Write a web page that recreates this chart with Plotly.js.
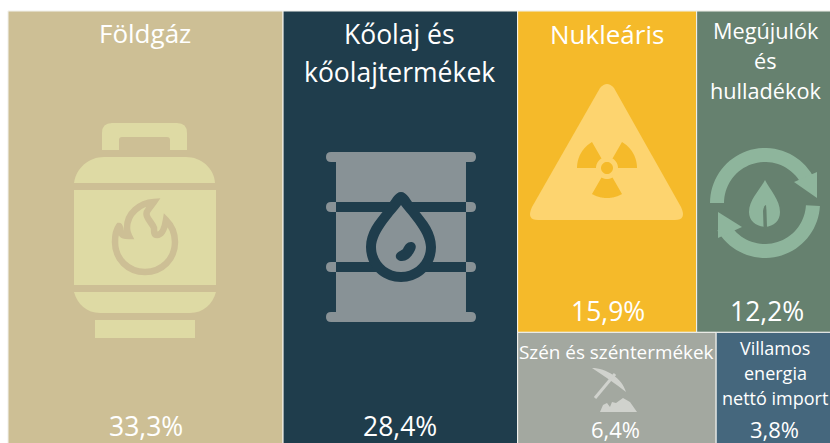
<!DOCTYPE html>
<html><head><meta charset="utf-8">
<script src="https://cdn.plot.ly/plotly-3.0.1.min.js"></script>
<style>html,body{margin:0;padding:0;width:830px;height:443px;overflow:hidden;background:#fff}</style>
</head><body><div id="chart" style="width:834px;height:449px"></div>
<script>
// Data
const categories = ['Földgáz','Kőolaj és kőolajtermékek','Nukleáris','Megújulók és hulladékok','Szén és széntermékek','Villamos energia nettó import'];
const shares = [33.3,28.4,15.9,12.2,6.4,3.8];
const tileColors = ['#CDBF95','#1F3D4C','#F5BA2A','#66816F','#A3A8A0','#45677D'];
const titleLines = [['Földgáz'],['Kőolaj és','kőolajtermékek'],['Nukleáris'],['Megújulók','és','hulladékok'],['Szén és széntermékek'],['Villamos','energia','nettó import']];

// Layout settings (pixels in the page; the treemap runs slightly past the photographed window, as in the reference)
const W = 834, H = 449, L = 8, T = 11;
const titleStyle = [
  {x:145,y:[33],size:26},{x:399.5,y:[34,72],size:26.5},{x:607,y:[34],size:26},
  {x:765.5,y:[30,60,90],size:21.7},{x:616.5,y:[352],size:18.9},{x:775,y:[348,373,398],size:18}];
const valueStyle = [{x:145.5,y:426,size:26.5},{x:399.5,y:426,size:26.5},{x:607.5,y:311,size:26.5},{x:766.5,y:311,size:26.5},{x:615,y:429,size:22},{x:774,y:429,size:22}];

const ids = ['Gyökér','t0','t1','Többi','Felső','Alsó','t2','t3','t4','t5'];
const parents = ['','Gyökér','Gyökér','Gyökér','Többi','Többi','Felső','Felső','Alsó','Alsó'];
const values = [0,shares[0],shares[1],0,0,0,shares[2],shares[3],shares[4],shares[5]];
const none = 'rgba(0,0,0,0)';
const colors = [none,tileColors[0],tileColors[1],none,none,none,tileColors[2],tileColors[3],tileColors[4],tileColors[5]];

const trace = {
  type:'treemap', ids:ids, labels:ids, parents:parents, values:values,
  branchvalues:'remainder', sort:false, textinfo:'none', hoverinfo:'skip',
  tiling:{packing:'slice-dice',pad:0},
  pathbar:{visible:false},
  marker:{colors:colors,pad:{t:0,l:0,r:0,b:0},line:{color:'#F4F4F0',width:1}},
  domain:{x:[L/W,1],y:[0,(H-T)/H]}
};

// Helpers for icon drawing
const f = n => n.toFixed(5);
const tp = s => s.replace(/(-?\d+\.?\d*)[ ,]+(-?\d+\.?\d*)/g,(m,a,b)=>f(+a/W)+','+f(1-(+b)/H));
const rr = (a,b,c,d,r)=>`M ${a+r} ${b} L ${c-r} ${b} Q ${c} ${b} ${c} ${b+r} L ${c} ${d-r} Q ${c} ${d} ${c-r} ${d} L ${a+r} ${d} Q ${a} ${d} ${a} ${d-r} L ${a} ${b+r} Q ${a} ${b} ${a+r} ${b} Z`;
const pt = (cx,cy,r,deg)=>{const t=deg*Math.PI/180;return [cx+r*Math.cos(t),cy-r*Math.sin(t)];};
const band = (cx,cy,r0,r1,a0,a1)=>{const n=36;let o=[],i=[];for(let k=0;k<=n;k++){const d=a0+(a1-a0)*k/n;o.push(pt(cx,cy,r1,d));i.unshift(pt(cx,cy,r0,d));}
  return 'M '+o.concat(i).map(p=>p[0].toFixed(2)+' '+p[1].toFixed(2)).join(' L ')+' Z';};
const shape = (d,fill,line,width)=>({type:'path',xref:'paper',yref:'paper',layer:'above',path:tp(d),fillcolor:fill||none,line:{color:line||none,width:width||0}});

const gasIcon='#DEDAA4', oilIcon='#889296', nukeIcon='#FDD46F', greenIcon='#8EB59C', coalIcon='#D0D2CD';
const shapes = [
  // gas cylinder
  shape(`M 102 150 L 102 133 Q 102 123 112 123 L 177 123 Q 187 123 187 133 L 187 150 L 170 150 L 170 140 Q 170 137 167 137 L 122 137 Q 119 137 119 140 L 119 150 Z`,gasIcon),
  shape(`M 74 183 C 76 168 89 157 104 157 L 186 157 C 201 157 214 168 215 183 Z`,gasIcon),
  shape(`M 74 190 L 216 190 L 216 285 L 74 285 Z`,gasIcon),
  shape(`M 74 292 L 216 292 C 213 304 203 313 190 313 L 100 313 C 87 313 77 304 74 292 Z`,gasIcon),
  shape(`M 95 320 L 195 320 L 195 338 L 95 338 Z`,gasIcon),
  shape(`M 154 202 C 140 203 127 213 127 228 C 127 231 128 234 129 236 C 125 236 122 236 121 232 C 120 229 120 226 119 226 C 116 230 115 236 115 242 C 115 259 128 272 145 272 C 162 272 175 259 175 242 C 175 233 172 226 166 220 C 165 226 163 235 157 235 C 154 235 154 232 154 228 C 152 222 143 216 148 210 C 150 207 152 205 154 202 Z`,none,tileColors[0],6.5),
  // oil barrel
  shape(rr(326,152,476,162,5),oilIcon),
  shape(rr(326,312,476,322,5),oilIcon),
  shape(`M 336 160 L 466 160 L 466 314 L 336 314 Z`,oilIcon),
  shape(rr(326,202,346,212,5),oilIcon),shape(rr(456,202,476,212,5),oilIcon),
  shape(rr(326,262,346,272,5),oilIcon),shape(rr(456,262,476,272,5),oilIcon),
  shape(`M 336 202 L 466 202 L 466 212 L 336 212 Z`,tileColors[1]),
  shape(`M 336 262 L 466 262 L 466 272 L 336 272 Z`,tileColors[1]),
  shape(`M 401 192 C 395 192 392 200 385 209 C 375 221 366 232 366 247 C 366 267 382 282 401 282 C 420 282 436 267 436 247 C 436 232 427 221 417 209 C 410 200 407 192 401 192 Z`,tileColors[1]),
  shape(`M 401 205 C 396 212 376 232 376 247 C 376 261 387 272 401 272 C 415 272 426 261 426 247 C 426 232 406 212 401 205 Z`,oilIcon),
  shape(`M 396 255 C 397 252 401 251 403 249 C 405 245 407 242 411 242 C 415 242 417 246 415 250 C 412 256 408 261 402 261 C 398 261 395 258 396 255 Z`,tileColors[1]),
  // radiation sign
  shape(`M 600 88 Q 607 80 614 88 L 681 207 Q 687 220 675 220 L 538 220 Q 526 220 532 207 Z`,nukeIcon),
  shape(band(607,168,11,30,120,180),tileColors[2]),
  shape(band(607,168,11,30,0,60),tileColors[2]),
  shape(band(607,168,11,30,240,300),tileColors[2]),
  shape(band(607,168,0,6,0,360),tileColors[2]),
  // recycle + leaf
  shape(band(765,203,41,55,30,180),greenIcon),
  shape(band(765,203,41,55,-150,-3),greenIcon),
  shape(`M 817 172 L 817 198 L 794 182 Z`,greenIcon),
  shape(`M 718 212 L 718 238 L 742 227 Z`,greenIcon),
  shape(`M 765 180 C 760 190 749 200 749 212 C 749 221 756 226 765 227 C 774 226 780 221 780 212 C 780 200 770 190 765 180 Z`,greenIcon),
  shape(`M 763.5 227 L 763 211 Q 764 205 766 205 L 766.5 211 L 767 227 Z`,tileColors[3]),
  // pickaxe + rocks
  shape(`M 592 368 C 606 368 622 378 626 392 C 616 384 604 376 592 368 Z`,coalIcon),
  shape(`M 595 398 L 615 374`,none,coalIcon,3),
  shape(`M 600 412 L 603 405 L 607 403 L 610 407 L 612 402 L 616 403 L 623 398 L 630 402 L 637 412 Z`,coalIcon)
];

// Texts
const annotations = [];
const note = (text,x,y,size)=>annotations.push({text:text,x:x/W,y:1-y/H,xref:'paper',yref:'paper',xanchor:'center',yanchor:'middle',showarrow:false,font:{family:'"Open Sans",sans-serif',size:size,color:'#FFFFFF'}});
categories.forEach((c,i)=>{
  titleLines[i].forEach((t,j)=>note(t,titleStyle[i].x,titleStyle[i].y[j],titleStyle[i].size));
  note(shares[i].toFixed(1).replace('.',',')+'%',valueStyle[i].x,valueStyle[i].y,valueStyle[i].size);
});

Plotly.newPlot('chart',[trace],{
  width:W,height:H,margin:{l:0,r:0,t:0,b:0},paper_bgcolor:'#FFFFFF',showlegend:false,
  shapes:shapes,annotations:annotations
},{displayModeBar:false,staticPlot:true});
</script></body></html>
